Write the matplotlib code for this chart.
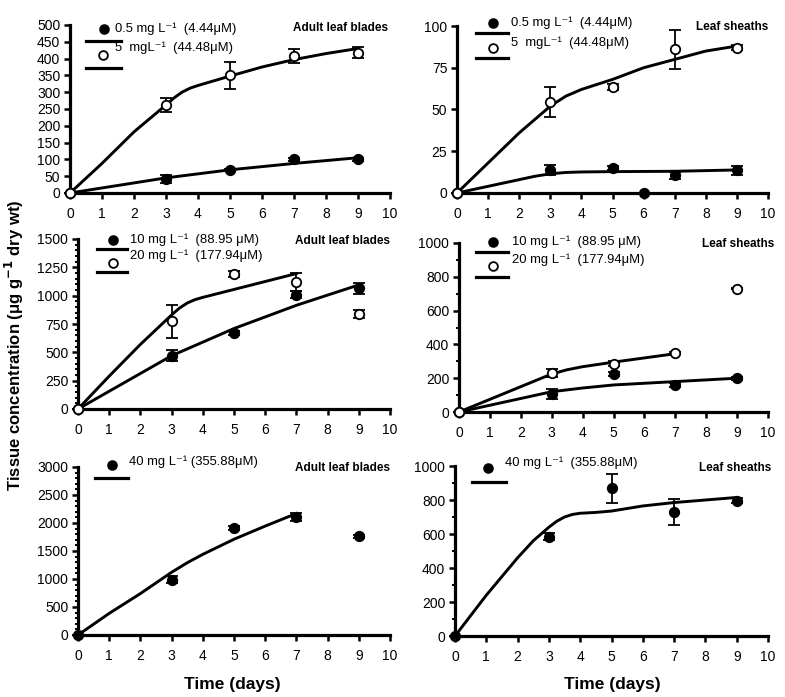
import matplotlib
matplotlib.use("Agg")
import matplotlib.pyplot as plt
from matplotlib.ticker import MultipleLocator

plt.rcParams['font.family'] = ['Liberation Sans', 'DejaVu Sans']

days = [0, 3, 5, 7, 9]

# Panel A: adult leaf blades, 0.5 and 5 mg/L
a_low = [0, 42, 68, 100, 100]
a_low_err = [0, 12, 4, 5, 4]
a_low_fit_x = [0, 3, 5, 7, 9]
a_low_fit_y = [0, 45, 69, 88, 105]
a_high = [0, 262, 350, 408, 418]
a_high_err = [0, 20, 40, 22, 17]
a_high_fit_x = [0, 1, 2, 3, 3.25, 3.5, 3.75, 4, 5, 6, 7, 8, 9]
a_high_fit_y = [0, 88, 182, 262, 283, 300, 312, 320, 348, 375, 397, 415, 430]

# Panel B: leaf sheaths, 0.5 and 5 mg/L
b_low_x = [0, 3, 5, 6, 7, 9]
b_low = [0, 13.5, 15, 0, 10.5, 13.5]
b_low_err = [0, 3, 1, 0, 2, 2.5]
b_low_fit_x = [0, 2, 2.5, 3, 3.5, 4, 5, 7, 9]
b_low_fit_y = [0, 8, 10, 11.5, 12.3, 12.6, 12.8, 13, 13.8]
b_high = [0, 54.5, 63.5, 86, 87]
b_high_err = [0, 9, 2, 11.5, 1.5]
b_high_fit_x = [0, 1, 2, 3, 3.5, 4, 5, 6, 7, 8, 9]
b_high_fit_y = [0, 18, 36, 52, 58, 62, 68, 75, 80, 85, 88]

# Panel C: adult leaf blades, 10 and 20 mg/L
c_low = [0, 470, 670, 1010, 1065]
c_low_err = [0, 50, 20, 30, 50]
c_low_fit_x = [0, 3, 5, 7, 9]
c_low_fit_y = [0, 470, 710, 915, 1095]
c_high = [0, 775, 1190, 1120, 840]
c_high_err = [0, 145, 25, 80, 35]
c_high_fit_x = [0, 1, 2, 3, 3.25, 3.5, 3.75, 4, 5, 6, 7]
c_high_fit_y = [0, 290, 570, 830, 890, 935, 965, 985, 1055, 1125, 1195]

# Panel D: leaf sheaths, 10 and 20 mg/L
d_low = [0, 105, 225, 160, 200]
d_low_err = [0, 30, 10, 10, 10]
d_low_fit_x = [0, 3, 4, 5, 7, 9]
d_low_fit_y = [0, 120, 142, 160, 180, 200]
d_high = [0, 230, 285, 350, 730]
d_high_err = [0, 25, 15, 5, 5]
d_high_fit_x = [0, 3, 3.5, 4, 5, 6, 7]
d_high_fit_y = [0, 225, 250, 268, 295, 320, 345]

# Panel E: adult leaf blades, 40 mg/L
e_val = [0, 990, 1910, 2100, 1760]
e_err = [0, 70, 30, 70, 30]
e_fit_x = [0, 1, 2, 3, 3.5, 4, 5, 6, 7]
e_fit_y = [0, 386, 740, 1120, 1290, 1440, 1710, 1945, 2170]

# Panel F: leaf sheaths, 40 mg/L
f_val = [0, 585, 870, 730, 795]
f_err = [0, 20, 85, 75, 15]
f_fit_x = [0, 1, 2, 2.5, 3, 3.25, 3.5, 3.75, 4, 4.5, 5, 6, 7, 8, 9]
f_fit_y = [0, 240, 460, 560, 640, 675, 700, 715, 722, 727, 735, 765, 785, 800, 815]

lbl_05 = "0.5 mg L\u207b\u00b9  (4.44\u03bcM)"
lbl_5 = "5  mgL\u207b\u00b9  (44.48\u03bcM)"
lbl_10 = "10 mg L\u207b\u00b9  (88.95 \u03bcM)"
lbl_20 = "20 mg L\u207b\u00b9  (177.94\u03bcM)"
lbl_40a = "40 mg L\u207b\u00b9 (355.88\u03bcM)"
lbl_40b = "40 mg L\u207b\u00b9  (355.88\u03bcM)"

fig = plt.figure(figsize=(7.85, 6.97), dpi=100)
W, H = 785, 697

def make_ax(l, r, t, b):
    return fig.add_axes([l / W, 1 - b / H, (r - l) / W, (b - t) / H])

axA = make_ax(70, 390, 25, 193)
axB = make_ax(457, 768, 26, 193)
axC = make_ax(78, 390, 239, 409)
axD = make_ax(459, 768, 243, 412)
axE = make_ax(78, 390, 467, 635)
axF = make_ax(455, 768, 466, 636)

def style(ax, ymax, ystep, yminor=None):
    ax.set_xlim(0, 10)
    ax.set_ylim(0, ymax)
    ax.set_xticks(range(0, 11))
    ax.yaxis.set_major_locator(MultipleLocator(ystep))
    if yminor:
        ax.yaxis.set_minor_locator(MultipleLocator(yminor))
    for s in ['top', 'right']:
        ax.spines[s].set_visible(False)
    for s in ['left', 'bottom']:
        ax.spines[s].set_linewidth(2.3)
    ax.tick_params(axis='both', which='major', direction='out', length=4, width=1.8,
                   labelsize=10, pad=3)
    ax.tick_params(axis='y', which='minor', direction='out', length=2.5, width=1.4)
    ax.tick_params(axis='x', pad=6)

def series(ax, x, y, err, fx, fy, filled):
    ax.plot(fx, fy, color='black', lw=2.1, zorder=2, solid_joinstyle='round')
    ax.errorbar(x, y, yerr=err, fmt='o', ms=6.8, mfc='black' if filled else 'white',
                mec='black', mew=1.3, ecolor='black', elinewidth=1.3, capsize=4.5,
                capthick=1.3, zorder=3, clip_on=False)

def legend_item(ax, mx, my, tx, ty, ly, lx0, lx1, label, filled):
    ax.plot([mx], [my], 'o', ms=6.3, mfc='black' if filled else 'white', mec='black',
            mew=1.3, transform=ax.transAxes, clip_on=False)
    ax.text(tx, ty, label, transform=ax.transAxes, fontsize=9.4, va='center', ha='left')
    ax.plot([lx0, lx1], [ly, ly], color='black', lw=2.3, transform=ax.transAxes,
            clip_on=False)

def title(ax, x, y, txt):
    ax.text(x, y, txt, transform=ax.transAxes, fontsize=8.5, fontweight='bold',
            ha='right', va='center')

# A
style(axA, 500, 50)
series(axA, days, a_low, a_low_err, a_low_fit_x, a_low_fit_y, True)
series(axA, days, a_high, a_high_err, a_high_fit_x, a_high_fit_y, False)
legend_item(axA, 0.106, 0.976, 0.14, 0.976, 0.905, 0.05, 0.16, lbl_05, True)
legend_item(axA, 0.103, 0.821, 0.14, 0.863, 0.744, 0.05, 0.16, lbl_5, False)
title(axA, 0.995, 0.985, "Adult leaf blades")

# B
style(axB, 100, 25)
series(axB, b_low_x, b_low, b_low_err, b_low_fit_x, b_low_fit_y, True)
series(axB, days, b_high, b_high_err, b_high_fit_x, b_high_fit_y, False)
legend_item(axB, 0.116, 1.018, 0.174, 1.018, 0.958, 0.061, 0.164, lbl_05, True)
legend_item(axB, 0.116, 0.868, 0.174, 0.898, 0.808, 0.061, 0.164, lbl_5, False)
title(axB, 1.0, 0.994, "Leaf sheaths")

# C
style(axC, 1500, 250, 50)
series(axC, days, c_low, c_low_err, c_low_fit_x, c_low_fit_y, True)
series(axC, days, c_high, c_high_err, c_high_fit_x, c_high_fit_y, False)
legend_item(axC, 0.112, 0.994, 0.167, 0.994, 0.941, 0.061, 0.157, lbl_10, True)
legend_item(axC, 0.112, 0.859, 0.167, 0.9, 0.806, 0.061, 0.157, lbl_20, False)
title(axC, 1.0, 0.988, "Adult leaf blades")

# D
style(axD, 1000, 200, 100)
series(axD, days, d_low, d_low_err, d_low_fit_x, d_low_fit_y, True)
series(axD, days, d_high, d_high_err, d_high_fit_x, d_high_fit_y, False)
legend_item(axD, 0.11, 1.006, 0.171, 1.006, 0.947, 0.055, 0.159, lbl_10, True)
legend_item(axD, 0.11, 0.864, 0.171, 0.9, 0.8, 0.055, 0.159, lbl_20, False)
title(axD, 1.02, 0.994, "Leaf sheaths")

# E
style(axE, 3000, 500, 100)
series(axE, days, e_val, e_err, e_fit_x, e_fit_y, True)
legend_item(axE, 0.109, 1.012, 0.164, 1.03, 0.935, 0.054, 0.16, lbl_40a, True)
title(axE, 1.0, 0.994, "Adult leaf blades")

# F
style(axF, 1000, 200, 100)
series(axF, days, f_val, f_err, f_fit_x, f_fit_y, True)
legend_item(axF, 0.105, 0.988, 0.16, 1.018, 0.906, 0.054, 0.163, lbl_40b, True)
title(axF, 1.01, 0.988, "Leaf sheaths")

fig.text(14 / W, 1 - 345 / H, "Tissue concentration (\u03bcg g$^{\\mathbf{-1}}$ dry wt)",
         rotation=90, fontsize=12, fontweight='bold', ha='center', va='center')
fig.text(232 / W, 1 - 685 / H, "Time (days)", fontsize=12.5, fontweight='bold',
         ha='center', va='center')
fig.text(612 / W, 1 - 685 / H, "Time (days)", fontsize=12.5, fontweight='bold',
         ha='center', va='center')

fig.savefig("out.png", dpi=100)
